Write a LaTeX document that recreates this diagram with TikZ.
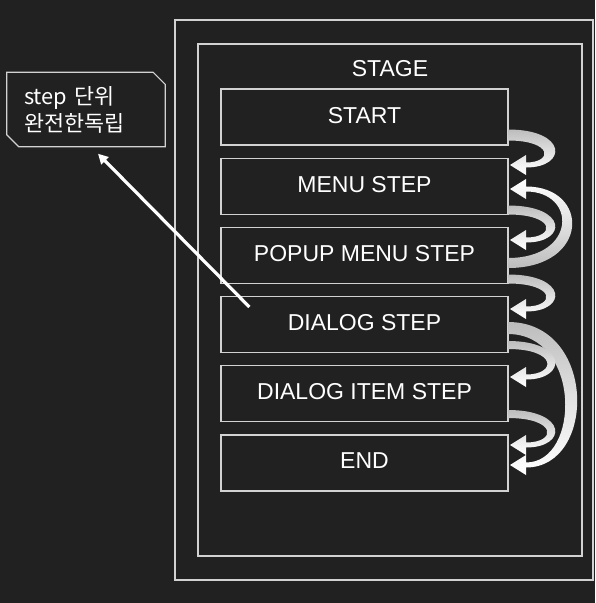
\documentclass[tikz,border=0pt]{standalone}
\usepackage{fontspec}
\setmainfont{Liberation Sans}
\newfontfamily\krfont{Noto Sans CJK KR}
\usetikzlibrary{positioning,arrows.meta,calc}

\definecolor{bgdark}{HTML}{212121}
\definecolor{lineg}{HTML}{D2D2D2}
\definecolor{tailg}{HTML}{BDBDBD}

\tikzset{
  frame/.style={draw=lineg, line width=1.2pt},
  stepbox/.style={draw=lineg, line width=1.2pt, minimum width=287pt,
    minimum height=56pt, text=white, text depth=4pt,
    font=\fontsize{23}{26}\selectfont},
}

% tail y, head y, outer x, tail width, direction (1 down, -1 up)
\newcommand{\bendarrow}[5]{%
  \pgfmathsetmacro{\xo}{(#3-129.25)/0.75}
  \pgfmathsetmacro{\xi}{(#3-#4-129.25)/0.75}
  \ifnum#5>0 \def\tc{tailg}\def\bc{white}\else\def\tc{white}\def\bc{tailg}\fi
  \shade[top color=\tc, bottom color=\bc, middle color=tailg!45!white]
    (508,{#1-(#5)*#4/2}) .. controls (\xo,{#1-(#5)*#4/2}) and (\xo,{#2+(#5)*2.5}) .. (526,{#2+(#5)*2.5})
    -- (526,{#2+(#5)*10}) -- (510,#2) -- (526,{#2-(#5)*10}) -- (526,{#2-(#5)*2.5})
    .. controls (\xi,{#2-(#5)*2.5}) and (\xi,{#1+(#5)*#4/2}) .. (508,{#1+(#5)*#4/2}) -- cycle;
}

\begin{document}
\begin{tikzpicture}[x=1pt, y=-1pt]
  \fill[bgdark] (0,0) rectangle (595,603);
  \useasboundingbox (0,0) rectangle (595,603);

  \draw[frame] (175,20) rectangle (593,580);
  \draw[frame] (198,44) rectangle (582,556);
  \node[text=white, font=\fontsize{23}{26}\selectfont] (stage) at (390,69) {STAGE};

  \node[stepbox] (start) at (364.5,117) {START};
  \node[stepbox, below=12pt of start] (menu) {MENU STEP};
  \node[stepbox, below=12pt of menu] (popup) {POPUP MENU STEP};
  \node[stepbox, below=12pt of popup] (dialog) {DIALOG STEP};
  \node[stepbox, below=12pt of dialog] (item) {DIALOG ITEM STEP};
  \node[stepbox, below=12pt of item] (finish) {END};

  % step to step
  \bendarrow{135}{165}{555}{11}{1}
  \bendarrow{210}{240}{555}{9}{1}
  \bendarrow{263}{189}{572}{10}{-1}
  \bendarrow{279}{309}{555}{9}{1}
  \bendarrow{328}{465}{577}{12}{1}
  \bendarrow{345}{377}{555}{8}{1}
  \bendarrow{414}{445}{555}{8}{1}

  % note
  \node[text=white, minimum width=158pt, minimum height=74pt, text width=124pt,
    align=left, font=\krfont\fontsize{21.8}{27}\selectfont] (note) at (86,109.5)
    {step 단위\\완전한독립};
  \draw[lineg, line width=1.2pt] (note.north west) -- ([xshift=-12pt]note.north east)
    -- ([yshift=-12pt]note.north east) -- (note.south east)
    -- ([xshift=12pt]note.south west) -- ([yshift=12pt]note.south west) -- cycle;

  \draw[white, line width=3.2pt, -{Triangle[length=10pt,width=10pt]}]
    ($(dialog.north west)+(29,11)$) -- ($(note.south)+(12,7)$);
\end{tikzpicture}
\end{document}
